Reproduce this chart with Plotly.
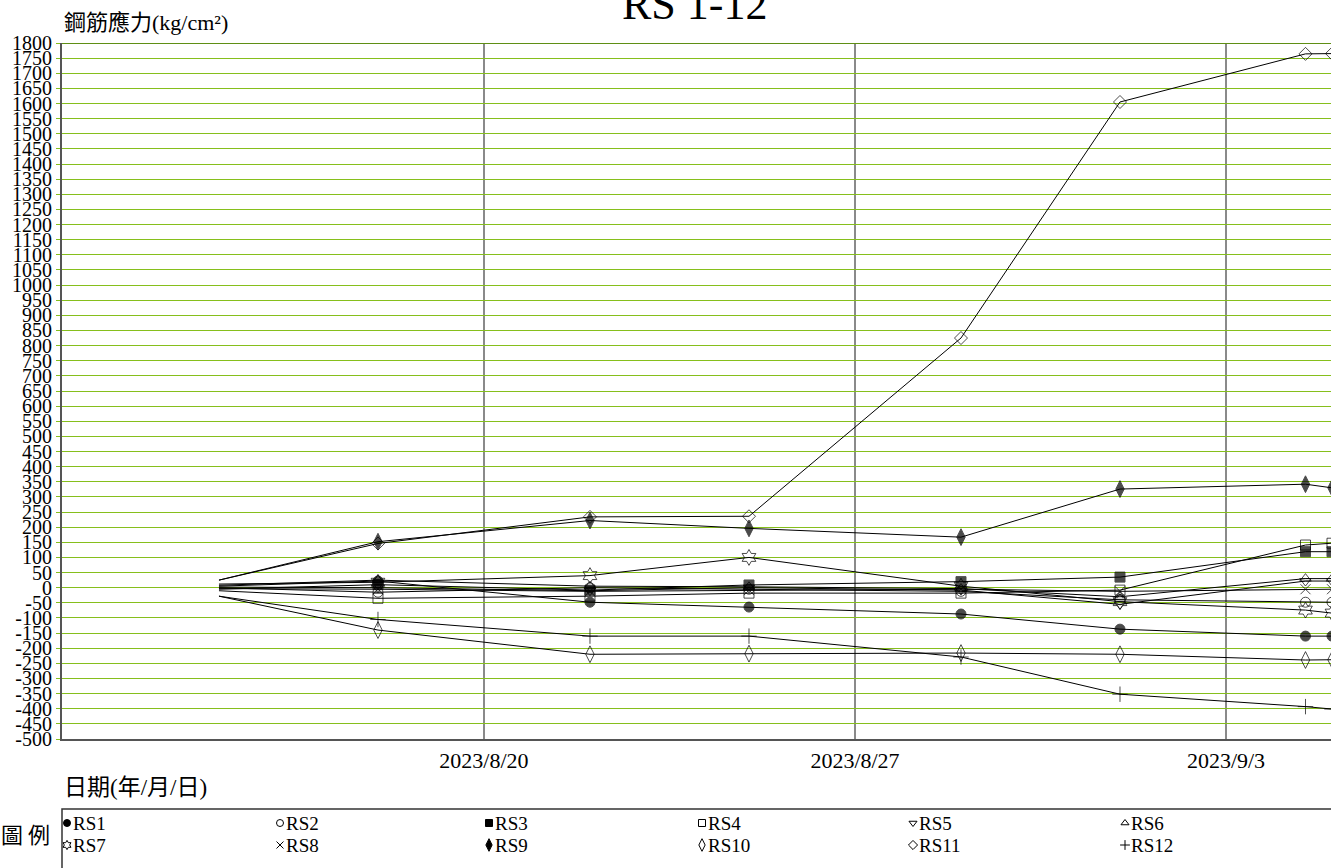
import plotly.graph_objects as go

# ---------------- data ----------------
dates = ["2023-08-15", "2023-08-18", "2023-08-22", "2023-08-25",
         "2023-08-29", "2023-09-01", "2023-09-04 12:00", "2023-09-05"]

series_names = ["RS1", "RS2", "RS3", "RS4", "RS5", "RS6",
                "RS7", "RS8", "RS9", "RS10", "RS11", "RS12"]

RS1 = [5, 22, -48, -64, -87, -137, -160, -160]
RS2 = [0, -15, 0, -5, -12, -40, -48, -48]
RS3 = [-5, 10, -8, 9, 20, 35, 119, 119]
RS4 = [-10, -35, -28, -18, -18, -8, 141, 147]
RS5 = [2, 0, -10, 0, -8, -55, 22, 22]
RS6 = [8, 25, 5, 3, -3, -30, 30, 30]
RS7 = [12, 18, 40, 100, 5, -46, -74, -84]
RS8 = [-3, -5, -12, -8, -5, -12, -5, -5]
RS9 = [25, 152, 222, 196, 167, 326, 342, 330]
RS10 = [-28, -140, -220, -218, -216, -220, -239, -238]
RS11 = [25, 146, 234, 236, 825, 1605, 1764, 1765]
RS12 = [-28, -105, -160, -160, -229, -352, -393, -401]

series_values = [RS1, RS2, RS3, RS4, RS5, RS6, RS7, RS8, RS9, RS10, RS11, RS12]

x_tick_vals = ["2023-08-20", "2023-08-27", "2023-09-03"]
x_tick_text = ["2023/8/20", "2023/8/27", "2023/9/3"]
y_tick_vals = list(range(-500, 1801, 50))
y_tick_text = [str(v) for v in y_tick_vals]

# ---------------- styles ----------------
symbols = ["circle", "circle-open", "square", "square-open",
           "triangle-down-open", "triangle-up-open", "hexagram-open",
           "x-thin-open", "diamond-tall", "diamond-tall-open",
           "diamond-open", "cross-thin-open"]
sizes = [10, 10, 10, 10, 10, 10, 12, 10, 12, 12, 10, 11]

SERIF = "Liberation Serif, Noto Sans CJK TC"
CJK = "Noto Sans CJK TC, Liberation Serif"
GRID_GREEN = "#86bf1c"

W, H = 1331, 868
ML, MT = 62, 43
paper_h = H - MT
plot_bottom_px = 739
legend_top_px = 809
main_dom0 = (H - plot_bottom_px) / paper_h
leg_dom1 = (H - legend_top_px) / paper_h

fig = go.Figure()

for name, vals, sym, sz in zip(series_names, series_values, symbols, sizes):
    msize = [0] + [sz] * (len(vals) - 1)
    fig.add_trace(go.Scatter(
        x=dates, y=vals, name=name, mode="lines+markers",
        line=dict(color="black", width=1),
        marker=dict(symbol=sym, size=msize, color="black",
                    line=dict(color="black", width=1)),
        showlegend=False, xaxis="x", yaxis="y",
    ))

# ---------------- custom legend (grid of 6 columns x 2 rows) ----------------
col_x = [0, 213, 422, 635, 846, 1058]   # px from left of plot area
row_y = [45, 23]                          # px from bottom of page
for i, (name, sym) in enumerate(zip(series_names, symbols)):
    cx = col_x[i % 6]
    ry = row_y[i // 6]
    fig.add_trace(go.Scatter(
        x=[cx + 5], y=[ry], mode="markers", showlegend=False,
        marker=dict(symbol=sym, size=7 if "tall" not in sym else 9,
                    color="black", line=dict(color="black", width=1)),
        xaxis="x2", yaxis="y2", hoverinfo="skip", cliponaxis=False,
    ))
    fig.add_annotation(x=cx + 9, y=ry, xref="x2", yref="y2", text=name,
                       showarrow=False, xanchor="left", yanchor="middle",
                       font=dict(family=SERIF, size=19, color="black"))

fig.update_layout(
    width=W, height=H, autosize=False,
    margin=dict(l=ML, r=0, t=MT, b=0, pad=0, autoexpand=False),
    paper_bgcolor="white", plot_bgcolor="white",
    showlegend=False,
    xaxis=dict(
        type="date", domain=[0, 1], anchor="y", automargin=False,
        range=["2023-08-12 00:55", "2023-09-04 23:33"],
        tickvals=x_tick_vals, ticktext=x_tick_text,
        showgrid=True, gridcolor="#8a8a8a", gridwidth=1.5,
        showline=True, linecolor="#555555", linewidth=2,
        ticks="", ticklabelstandoff=1,
        tickfont=dict(family=SERIF, size=22, color="black"),
        zeroline=False,
    ),
    yaxis=dict(
        domain=[main_dom0, 1], anchor="x", automargin=False,
        range=[-500, 1800],
        tickvals=y_tick_vals, ticktext=y_tick_text,
        showgrid=True, gridcolor=GRID_GREEN, gridwidth=1,
        showline=True, linecolor="#555555", linewidth=2,
        ticks="outside", ticklen=4, tickcolor=GRID_GREEN,
        tickfont=dict(family=SERIF, size=20, color="black"),
        zeroline=False,
    ),
    xaxis2=dict(domain=[0, 1], anchor="y2", range=[0, W - ML], visible=False,
                automargin=False),
    yaxis2=dict(domain=[0, leg_dom1], anchor="x2", range=[0, H - legend_top_px],
                visible=False, automargin=False),
)

# top border (green)
fig.add_shape(type="line", xref="paper", yref="y", x0=0, x1=1, y0=1800, y1=1800,
              line=dict(color="#5f8f14", width=2))
# legend box
fig.add_shape(type="rect", xref="paper", yref="paper", x0=0, x1=1.02,
              y0=-0.05, y1=leg_dom1, line=dict(color="#333333", width=1.5))

# title
fig.add_annotation(x=0.5, y=1, xref="paper", yref="paper", text="RS 1-12",
                   showarrow=False, xanchor="center", yanchor="bottom", yshift=12,
                   xshift=-2, font=dict(family=SERIF, size=44, color="black"))
# y axis title
fig.add_annotation(x=0, y=1, xref="paper", yref="paper",
                   text="鋼筋應力(kg/cm²)", showarrow=False,
                   xanchor="left", yanchor="bottom", yshift=6,
                   font=dict(family=SERIF, size=22, color="black"))
# x axis title
fig.add_annotation(x=0, y=main_dom0, xref="paper", yref="paper",
                   text="日期(年/月/日)", showarrow=False,
                   xanchor="left", yanchor="middle", yshift=-48,
                   font=dict(family=SERIF, size=23, color="black"))
# legend header
fig.add_annotation(x=0, y=leg_dom1, xref="paper", yref="paper",
                   text="圖 例", showarrow=False,
                   xanchor="right", yanchor="middle", xshift=-10, yshift=-24,
                   font=dict(family=CJK, size=22, color="black"))

fig.write_html("out.html",
               config=dict(displayModeBar=False, responsive=False),
               post_script="document.body.style.margin='0px';"
                           "document.body.style.overflow='hidden';")
